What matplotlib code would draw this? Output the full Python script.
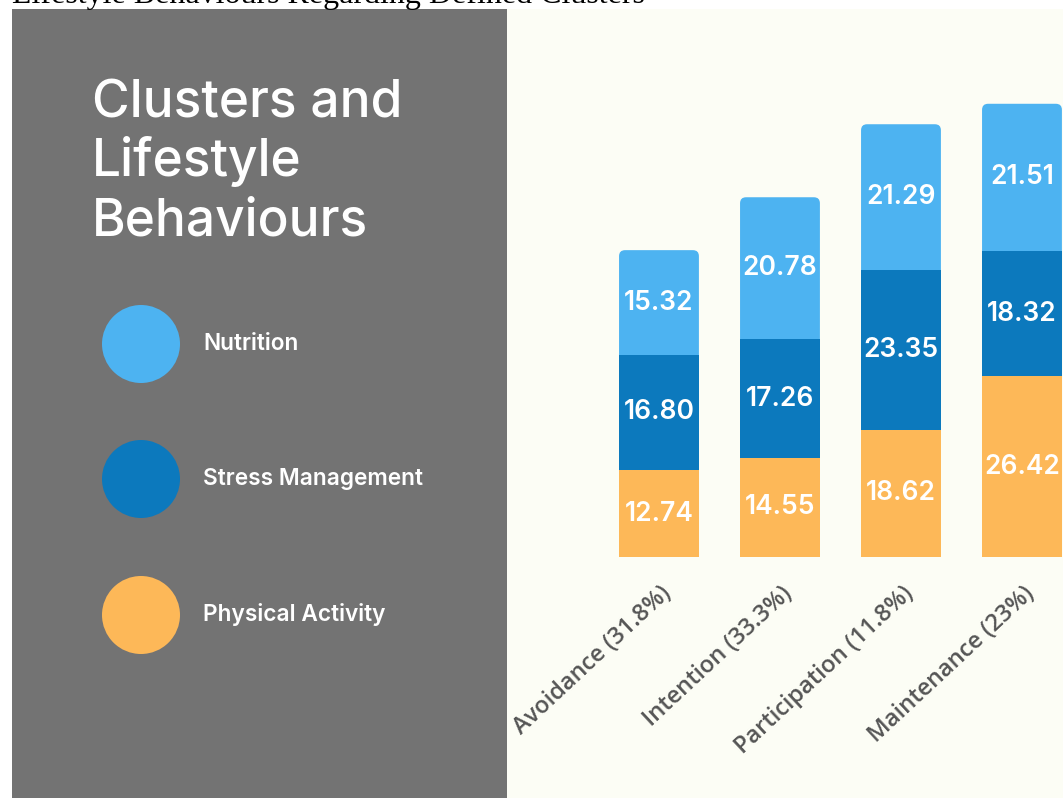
import matplotlib
matplotlib.use("Agg")
import matplotlib.pyplot as plt
from matplotlib.patches import Circle, FancyBboxPatch
import numpy as np

# cluster data
clusters = ["Avoidance (31.8%)", "Intention (33.3%)", "Participation (11.8%)", "Maintenance (23%)"]
physical = [12.74, 14.55, 18.62, 26.42]
stress = [16.80, 17.26, 23.35, 18.32]
nutrition = [15.32, 20.78, 21.29, 21.51]

series_names = ["Nutrition", "Stress Management", "Physical Activity"]

C_NUT = "#4db3f1"
C_STRESS = "#0c79bd"
C_PHYS = "#fdb858"
GRAY = "#737373"
CREAM = "#fcfdf5"

W, H = 1063, 798
fig = plt.figure(figsize=(W / 100, H / 100), dpi=100)
fig.patch.set_facecolor("white")

# heading that runs off the top edge
fig.text(12 / W, 1 - 3.5 / H, "Lifestyle Behaviours Regarding Defined Clusters",
         family="Liberation Serif", fontsize=23, color="black",
         ha="left", va="baseline")

# ---- left panel: title + legend ----
axl = fig.add_axes([12 / W, 0, 495 / W, 789 / H])
axl.set_xlim(12, 507)
axl.set_ylim(798, 9)
axl.set_facecolor(GRAY)
axl.set_xticks([])
axl.set_yticks([])
for s in axl.spines.values():
    s.set_visible(False)

for txt, yb in zip(["Clusters and", "Lifestyle", "Behaviours"], [117, 176, 236]):
    axl.text(92, yb, txt, family="Inter", fontweight="medium", fontsize=37,
             color="white", ha="left", va="baseline")

for name, col, yc in zip(series_names, [C_NUT, C_STRESS, C_PHYS], [344, 479, 615]):
    axl.add_patch(Circle((141, yc), 39, color=col, lw=0))
    axl.text(203, yc, name, family="Inter", fontweight="semibold", fontsize=16.3,
             color="white", ha="left", va="center")

# ---- right panel: stacked bars ----
ax = fig.add_axes([507 / W, 0, 556 / W, 789 / H])
ax.set_facecolor(CREAM)
ax.set_xlim(-1.256, 3.339)
ax.set_ylim(-35.2, 80.1)
ax.axis("off")
ax.add_patch(plt.Rectangle((0, 0), 1, 1, transform=ax.transAxes, color=CREAM, zorder=0))

x = np.arange(len(clusters))
phys = np.array(physical)
strs = np.array(stress)
nut = np.array(nutrition)
bw = 0.66

b_phys = ax.bar(x, phys, width=bw, color=C_PHYS, zorder=3)
b_strs = ax.bar(x, strs, bottom=phys, width=bw, color=C_STRESS, zorder=3)
b_nut = ax.bar(x, nut, bottom=phys + strs, width=bw, color=C_NUT, zorder=2)

# round off the top of each nutrition segment
for r in b_nut:
    x0, y0, w, h = r.get_x(), r.get_y(), r.get_width(), r.get_height()
    r.set_visible(False)
    ax.add_patch(FancyBboxPatch((x0, y0 - 3), w, h + 3,
                                boxstyle="round,pad=0,rounding_size=0.05",
                                mutation_aspect=17.5, color=C_NUT, lw=0, zorder=2))

for bars, vals, bottoms in [(b_phys, phys, np.zeros(4)), (b_strs, strs, phys),
                            (b_nut, nut, phys + strs)]:
    for xi, v, b in zip(x, vals, bottoms):
        ax.text(xi, b + v / 2, f"{v:.2f}", family="Inter", fontweight="semibold",
                fontsize=19, color="white", ha="center", va="center", zorder=4)

# slanted category labels under the bars
for xi, lab in zip(x, clusters):
    ax.text(xi + 0.01, -3.6, lab, family="Open Sans", fontweight="semibold",
            fontsize=17, color="#555555", rotation=43, rotation_mode="anchor",
            ha="right", va="top")

fig.savefig("out.png", dpi=100, facecolor=fig.get_facecolor())
